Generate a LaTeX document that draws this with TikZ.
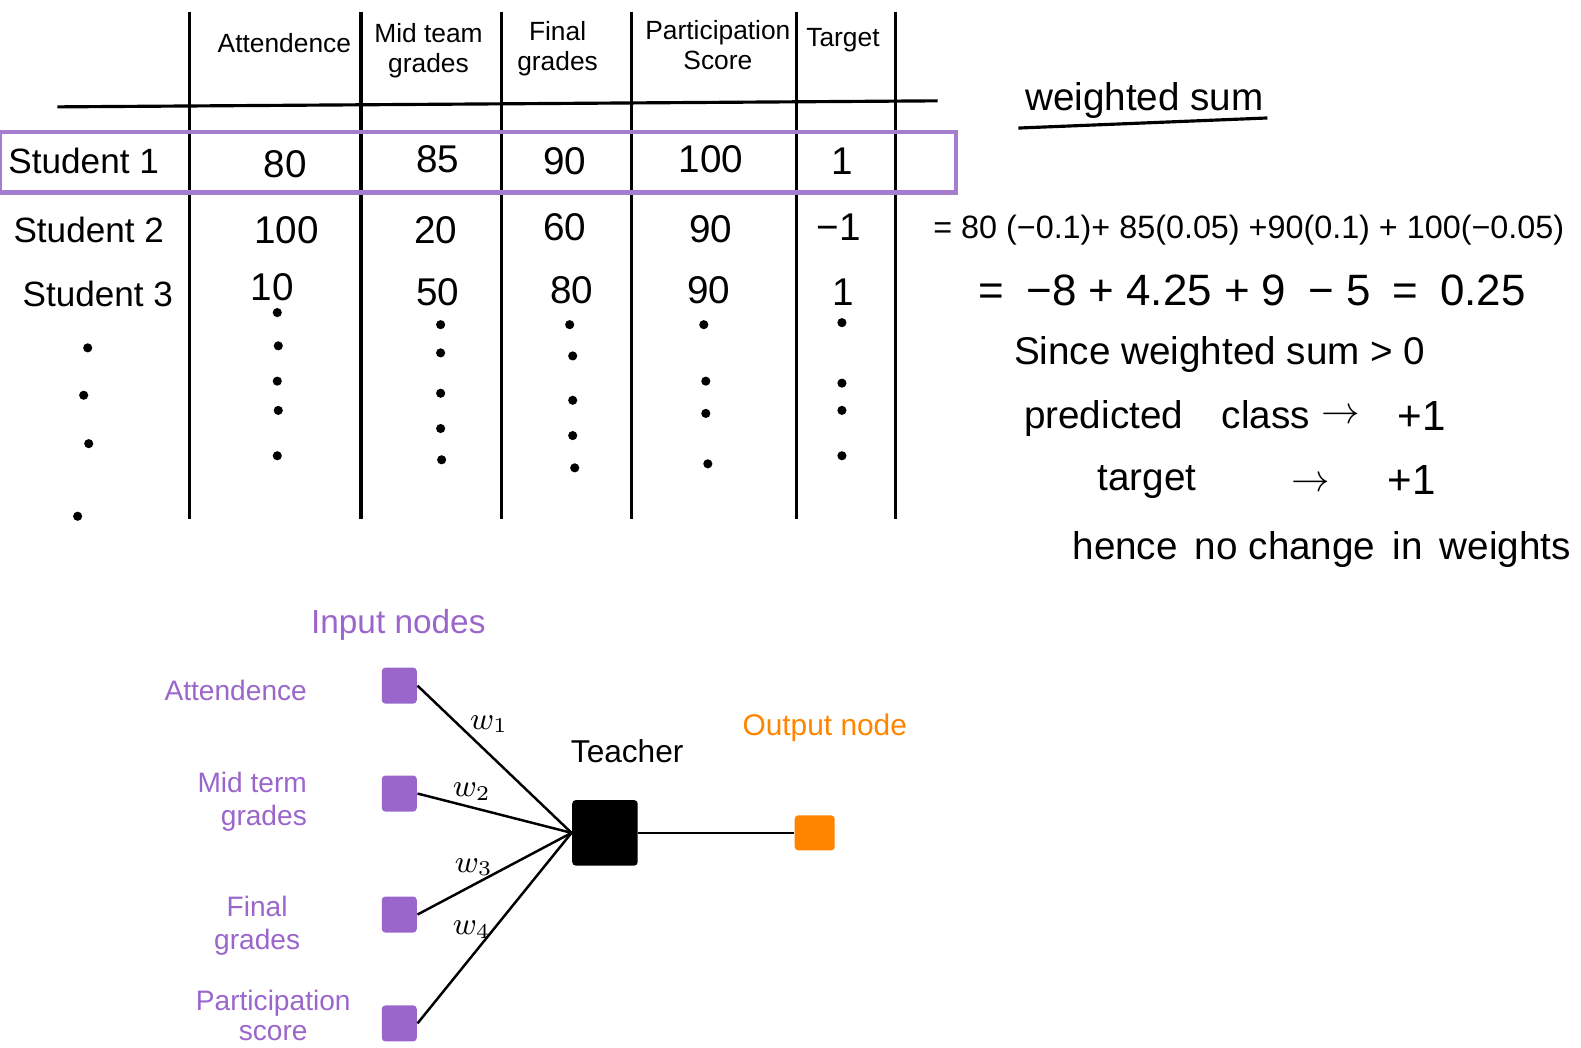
\documentclass[tikz,border=0pt]{standalone}
\usepackage{fontspec}
\setmainfont{Liberation Sans}
\definecolor{inpurple}{RGB}{155,102,204}
\definecolor{rowpurple}{RGB}{165,125,205}
\definecolor{outorange}{RGB}{255,133,0}
\begin{document}
\begin{tikzpicture}[
  x=0.010083cm, y=-0.010083cm,
  gridline/.style={line width=0.9pt},
  hdr/.style={font=\fontsize{7.5}{8.5}\selectfont,align=center,inner sep=0pt},
  rowlbl/.style={font=\fontsize{10}{12}\selectfont,inner sep=0pt},
  val/.style={font=\fontsize{11}{13}\selectfont,inner sep=0pt},
  eqn/.style={anchor=west,inner sep=0pt},
  innode/.style={rectangle,fill=inpurple,minimum width=0.35cm,minimum height=0.36cm,rounded corners=1pt,inner sep=0pt},
  netlbl/.style={font=\fontsize{8}{9.5}\selectfont,text=inpurple,inner sep=0pt},
  wlbl/.style={font=\fontsize{9}{10}\selectfont,inner sep=0pt},
  link/.style={line width=0.7pt}
]
\useasboundingbox (0,0) rectangle (1568,1039);

% ---- TABLE: grid lines and highlighted row ----
\foreach \x in {188,358,497,626,790,888}
  \draw[gridline] (\x,12) -- (\x,515);
\draw[gridline] (57,106) -- (930,100);
\draw[rowpurple, line width=1.2pt] (0,131) rectangle (948,191);

% Column headers
\node[hdr] (hAtt)  at (282,43) {Attendence};
\node[hdr] (hMid)  at (425,50) {Mid team\\grades};
\node[hdr] (hFin)  at (553,48) {Final\\grades};
\node[hdr] (hPart) at (712,45) {Participation\\Score};
\node[hdr] (hTgt)  at (836,40) {Target};

% Rows
\node[rowlbl] (s1) at (83,160) {Student 1};
\node[val] (s1a) at (283,163) {80};
\node[val] (s1m) at (434,158) {85};
\node[val] (s1f) at (560,160) {90};
\node[val] (s1p) at (705,158) {100};
\node[val] (s1t) at (835,160) {1};

\node[rowlbl] (s2) at (88,228) {Student 2};
\node[val] (s2a) at (284,228) {100};
\node[val] (s2m) at (432,228) {20};
\node[val] (s2f) at (560,225) {60};
\node[val] (s2p) at (705,227) {90};
\node[val] (s2t) at (832,225) {−1};

\node[rowlbl] (s3) at (97,292) {Student 3};
\node[val] (s3a) at (270,285) {10};
\node[val] (s3m) at (434,290) {50};
\node[val] (s3f) at (567,288) {80};
\node[val] (s3p) at (703,288) {90};
\node[val] (s3t) at (836,290) {1};

% Continuation dots
\foreach \x/\y in {87/345,83/392,88/440,77/512,
                   275/310,276/343,275/378,276/407,275/452,
                   437/322,437/350,437/390,437/425,438/456,
                   565/322,568/353,568/397,568/432,570/464,
                   698/322,700/378,700/410,702/460,
                   835/320,835/380,835/407,835/452}
  \fill (\x,\y) circle (1.3pt);

% ---- RIGHT: weighted sum working ----
\node[font=\fontsize{11}{13}\selectfont,inner sep=0pt] (wsum) at (1135,100) {weighted sum};
\draw[line width=0.9pt] (1010,127) -- (1257,117);

\node[eqn,font=\fontsize{9.2}{11}\selectfont] (eq1) at (925,228)
  {= 80 (−0.1)+ 85(0.05) +90(0.1) + 100(−0.05)};
\node[eqn,font=\fontsize{12.5}{14}\selectfont] (eq2) at (970,288)
  {=\enspace −8 + 4.25 + 9\enspace − 5\enspace =\enspace 0.25};
\node[eqn,font=\fontsize{11}{13}\selectfont] (since) at (1005,352)
  {Since weighted sum > 0};
\node[eqn,font=\fontsize{11}{13}\selectfont] (pred) at (1015,415)
  {predicted\quad class};
\node[font=\fontsize{11}{13}\selectfont,inner sep=0pt] (predarr) at (1330,413) {$\rightarrow$};
\node[font=\fontsize{12}{14}\selectfont,inner sep=0pt] (predval) at (1410,413) {+1};
\node[eqn,font=\fontsize{11}{13}\selectfont] (tgt) at (1088,478) {target};
\node[font=\fontsize{11}{13}\selectfont,inner sep=0pt] (tgtarr) at (1300,480) {$\rightarrow$};
\node[font=\fontsize{12}{14}\selectfont,inner sep=0pt] (tgtval) at (1400,476) {+1};
\node[eqn,font=\fontsize{11}{13}\selectfont] (hence) at (1063,545)
  {hence\, no change\, in\, weights};

% ---- BOTTOM: network of input, teacher and output nodes ----
\node[font=\fontsize{9.5}{11}\selectfont,text=inpurple,inner sep=0pt] (inlbl) at (395,620) {Input nodes};

\node[innode] (in1) at (396,680) {};
\node[innode] (in2) at (396,787) {};
\node[innode] (in3) at (396,907) {};
\node[innode] (in4) at (396,1015) {};

\node[netlbl,anchor=east] (l1) at (305,685) {Attendence};
\node[netlbl,anchor=east,align=right] (l2) at (305,795) {Mid term\\grades};
\node[netlbl,align=center] (l3) at (255,918) {Final\\grades};
\node[netlbl,align=center,font=\fontsize{8}{8.5}\selectfont] (l4) at (271,1007) {Participation\\score};

\node[rectangle,fill=black,minimum width=0.655cm,minimum height=0.655cm,rounded corners=1pt,inner sep=0pt] (teacher) at (600,826) {};
\node[font=\fontsize{9}{11}\selectfont,inner sep=0pt] (tlbl) at (622,745) {Teacher};

\node[rectangle,fill=outorange,minimum width=0.40cm,minimum height=0.35cm,rounded corners=1pt,inner sep=0pt] (out) at (808,826) {};
\node[font=\fontsize{8.5}{10}\selectfont,text=outorange,inner sep=0pt] (outlbl) at (818,722) {Output node};

\draw[link] (in1.east) -- (teacher.west);
\draw[link] (in2.east) -- (teacher.west);
\draw[link] (in3.east) -- (teacher.west);
\draw[link] (in4.east) -- (teacher.west);
\draw[link] (teacher.east) -- (out.west);

\node[wlbl] (w1) at (485,718) {$w_1$};
\node[wlbl] (w2) at (468,785) {$w_2$};
\node[wlbl] (w3) at (470,860) {$w_3$};
\node[wlbl] (w4) at (468,922) {$w_4$};

\end{tikzpicture}
\end{document}
